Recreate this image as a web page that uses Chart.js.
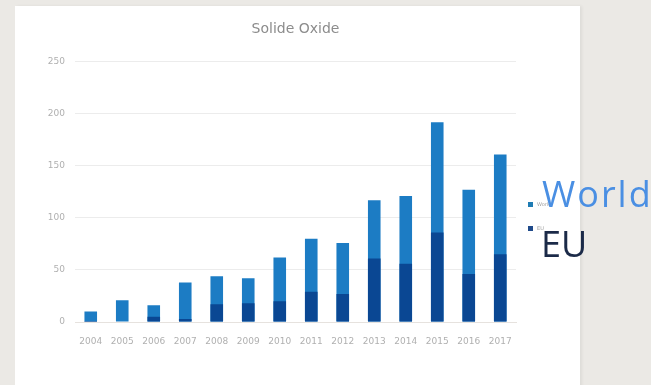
<!DOCTYPE html>
<html>
<head>
<meta charset="utf-8">
<script src="https://cdn.jsdelivr.net/npm/chart.js@4"></script>
<style>
  html, body { margin: 0; padding: 0; }
  body { width: 651px; height: 385px; background: #ebe9e5; position: relative; overflow: hidden; }
  #panel { position: absolute; left: 15px; top: 6px; width: 565px; height: 385px; background: #fff; box-shadow: 2px 0 3px rgba(0,0,0,0.06); }
  #myChart { position: absolute; left: 0; top: 0; }
  .sq { position: absolute; width: 5px; height: 5px; }
  .tiny { position: absolute; font: 5px "DejaVu Sans"; color: #a0a0a0; }
  .big { position: absolute; font: 36px "Open Sans"; line-height: 36px; white-space: nowrap; letter-spacing: 2px; }
</style>
</head>
<body>
<div id="panel"></div>
<canvas id="myChart" width="651" height="385"></canvas>
<div class="sq" style="left:528px;top:202px;background:#1f7cb4"></div>
<div class="sq" style="left:528px;top:226px;background:#1f4a8a"></div>
<div class="tiny" style="left:537px;top:201px">World</div>
<div class="tiny" style="left:537px;top:225px">EU</div>
<div class="big" style="left:542px;top:176px;color:#4a8fe3">World</div>
<div class="big" style="left:541px;top:226px;color:#1b2a48;letter-spacing:0">EU</div>
<script>
const years = ["2004", "2005", "2006", "2007", "2008", "2009", "2010", "2011", "2012", "2013", "2014", "2015", "2016", "2017"];
const world = [10, 21, 16, 38, 44, 42, 62, 80, 76, 117, 121, 192, 127, 161];
const eu = [1, 0, 5, 3, 17, 18, 20, 29, 27, 61, 56, 86, 46, 65];

const data = {
  labels: years,
  datasets: [{
    label: 'World',
    data: world,
    backgroundColor: '#1c7cc4',
    order: 1
  }, {
    label: 'EU',
    data: eu,
    backgroundColor: '#0a4793',
    order: 0
  }]
};

const tickFont = { family: 'DejaVu Sans', size: 9 };

const config = {
  type: 'bar',
  data: data,
  options: {
    responsive: false,
    animation: false,
    layout: { padding: { left: 0, right: 135, top: 0, bottom: 0 } },
    datasets: {
      bar: { grouped: false, categoryPercentage: 0.8, barPercentage: 0.5 }
    },
    scales: {
      x: {
        grid: { display: false, drawTicks: false },
        border: { color: '#e6e2de' },
        ticks: { font: tickFont, color: '#b0b0b0', padding: 14, maxRotation: 0 },
        afterFit: s => { s.height = 63; }
      },
      y: {
        min: 0,
        max: 250,
        grid: { color: '#ececec', drawTicks: false },
        border: { display: false },
        ticks: { stepSize: 50, font: tickFont, color: '#b0b0b0', padding: 10 },
        afterFit: s => { s.width = 75; }
      }
    },
    plugins: {
      legend: { display: false },
      tooltip: { enabled: false },
      title: {
        display: true,
        text: 'Solide Oxide',
        fullSize: false,
        color: '#8c8c8c',
        font: { family: 'DejaVu Sans', size: 14, weight: 'normal' },
        padding: { top: 21, bottom: 24 }
      }
    }
  }
};

new Chart(document.getElementById("myChart"), config);
</script>
</body>
</html>
